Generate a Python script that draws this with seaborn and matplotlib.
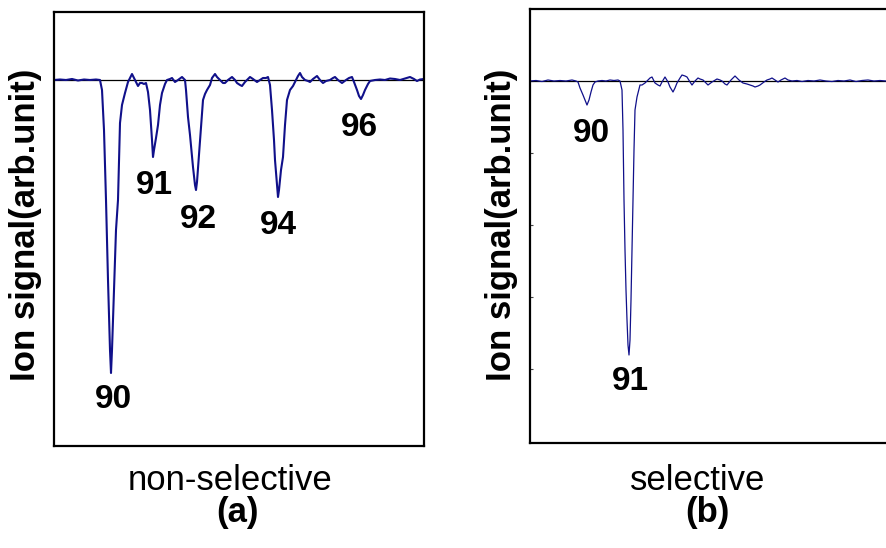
import matplotlib
matplotlib.use("Agg")
import matplotlib.pyplot as plt
import seaborn as sns
import pandas as pd

# ---- non-selective ionisation trace (scan step, ion signal) ----
scan_a = [0, 6, 12, 18, 24, 30, 36, 42, 46, 48, 50, 52, 54, 56, 57, 58, 60, 62, 64, 65,
          66, 68, 71, 74, 76, 78, 80, 82, 84, 86, 88, 90, 92, 94, 96, 98, 99, 100, 102, 104,
          106, 108, 111, 113, 116, 118, 121, 124, 128, 131, 132, 134, 136, 139, 141, 142, 143, 145, 146, 148,
          149, 151, 153, 156, 158, 161, 163, 166, 169, 171, 174, 178, 181, 183, 186, 188, 191, 196, 199, 203,
          206, 209, 212, 214, 216, 218, 220, 221, 223, 224, 225, 227, 229, 231, 233, 236, 239, 241, 244, 246,
          248, 251, 254, 256, 259, 263, 266, 269, 272, 276, 279, 281, 284, 288, 292, 295, 298, 300, 303, 305,
          307, 309, 311, 314, 316, 321, 326, 331, 336, 341, 346, 351, 356, 360, 363, 366, 370]
signal_a = [0.00, 0.005, 0.00, 0.01, -0.005, 0.005, 0.00, 0.005, 0.00, -0.10, -0.50, -1.20, -2.00, -2.70, -2.93, -2.70, -2.10, -1.50, -1.20, -0.80,
            -0.43, -0.25, -0.13, -0.02, 0.02, 0.06, 0.02, -0.02, -0.06, -0.03, -0.03, -0.04, -0.03, -0.12, -0.30, -0.60, -0.77, -0.70, -0.58, -0.45,
            -0.25, -0.13, -0.04, 0.00, 0.01, 0.02, -0.02, 0.00, 0.03, 0.00, -0.10, -0.37, -0.55, -0.87, -1.05, -1.10, -1.02, -0.75, -0.60, -0.35,
            -0.20, -0.14, -0.10, -0.05, 0.02, 0.06, 0.03, 0.00, -0.03, -0.03, 0.00, 0.03, 0.00, -0.03, -0.05, -0.06, -0.02, 0.03, 0.01, -0.02,
            0.00, 0.02, 0.02, 0.03, -0.05, -0.30, -0.60, -0.80, -1.05, -1.17, -1.10, -0.90, -0.77, -0.45, -0.20, -0.10, -0.06, -0.02, 0.04, 0.07,
            0.03, 0.00, -0.01, -0.02, 0.01, 0.04, 0.00, -0.03, -0.01, 0.00, 0.02, 0.03, 0.00, -0.03, 0.00, 0.02, 0.03, -0.02, -0.10, -0.16,
            -0.19, -0.15, -0.10, -0.04, -0.01, 0.00, 0.005, 0.00, 0.015, 0.01, 0.00, 0.015, 0.03, 0.01, -0.01, 0.005, 0.01]

# ---- selective ionisation trace ----
scan_b = [0, 6, 12, 18, 24, 30, 36, 42, 46, 48, 50, 53, 55, 57, 59, 61, 63, 65, 68, 72,
          76, 80, 84, 88, 90, 92, 93, 94, 95, 96, 97, 98, 99, 100, 101, 102, 103, 104, 105, 107,
          110, 112, 115, 118, 120, 122, 125, 128, 130, 132, 135, 138, 140, 143, 145, 147, 150, 152, 155, 157,
          160, 162, 165, 168, 170, 173, 176, 178, 182, 187, 190, 192, 195, 197, 201, 205, 209, 213, 217, 220,
          223, 225, 228, 230, 234, 237, 240, 242, 245, 248, 251, 255, 258, 262, 267, 272, 278, 284, 290, 296,
          302, 308, 314, 320, 326, 332, 338, 344, 350, 356]
signal_b = [0.00, 0.005, -0.005, 0.01, 0.00, 0.005, 0.00, 0.01, 0.00, -0.01, -0.07, -0.14, -0.19, -0.24, -0.19, -0.11, -0.04, -0.01, 0.00, 0.005,
            0.00, 0.01, 0.005, 0.01, 0.00, -0.09, -0.49, -1.19, -1.69, -2.09, -2.39, -2.64, -2.74, -2.59, -2.19, -1.69, -1.19, -0.69, -0.29, -0.16,
            -0.04, -0.04, -0.02, 0.01, 0.03, 0.04, -0.02, -0.04, -0.05, -0.01, 0.04, -0.01, -0.06, -0.11, -0.07, -0.02, 0.03, 0.06, 0.05, 0.04,
            -0.01, -0.04, 0.00, 0.03, 0.02, 0.01, -0.02, -0.04, -0.01, 0.02, 0.01, 0.00, -0.03, -0.04, 0.01, 0.05, 0.01, -0.02, -0.03, -0.04,
            -0.05, -0.06, -0.05, -0.04, -0.01, 0.01, 0.02, 0.03, 0.01, -0.01, 0.01, 0.03, 0.01, 0.00, 0.005, -0.005, 0.005, 0.00, 0.01, 0.00,
            -0.005, 0.005, 0.00, 0.01, -0.005, 0.005, 0.01, 0.00, 0.005, 0.00]

# mass labels of the resonance dips
masses_a = ["90", "91", "92", "94", "96"]
masses_b = ["90", "91"]
panel_names = ["non-selective", "selective"]
panel_tags = ["(a)", "(b)"]

sns.set_theme(style="white")
plt.rcParams["font.family"] = ["Liberation Sans", "DejaVu Sans"]
plt.rcParams["text.color"] = "black"

W, H = 886, 548
fig = plt.figure(figsize=(W / 100, H / 100), dpi=100)

def px_axes(left, top, right, bottom):
    return fig.add_axes([left / W, 1 - bottom / H, (right - left) / W, (bottom - top) / H])

ax_a = px_axes(54, 12, 424, 446)
ax_b = px_axes(530, 9, 892, 443)

trace_color = "#10108a"
df_a = pd.DataFrame({"scan": scan_a, "signal": signal_a})
df_b = pd.DataFrame({"scan": scan_b, "signal": signal_b})
sns.lineplot(data=df_a, x="scan", y="signal", ax=ax_a, color=trace_color, lw=1.5,
             estimator=None, sort=False)
sns.lineplot(data=df_b, x="scan", y="signal", ax=ax_b, color=trace_color, lw=0.9,
             estimator=None, sort=False)

ax_a.set_xlim(0, 370)
ax_a.set_ylim(-3.66, 0.68)
ax_b.set_xlim(0, 362)
ax_b.set_ylim(-3.62, 0.72)

for ax in (ax_a, ax_b):
    ax.axhline(0, color="black", lw=0.9, zorder=1)
    ax.set_xlabel("")
    ax.set_ylabel("")
    ax.set_xticks([])
    for s in ax.spines.values():
        s.set_color("black")
        s.set_linewidth(1.6)

ax_a.set_yticks([])
ax_b.set_yticks([0, -0.72, -1.44, -2.16, -2.88])
ax_b.tick_params(axis="y", direction="in", length=2.5, width=0.8, left=True,
                 labelleft=False, color="#444444")

lab_kw = dict(fontsize=24, fontweight="bold", ha="center", va="center", color="black")
for txt, (x, y) in zip(masses_a, [(59, -3.19), (100, -1.06), (144, -1.40), (224, -1.45), (305, -0.48)]):
    ax_a.text(x, y, txt, **lab_kw)
for txt, (x, y) in zip(masses_b, [(61, -0.52), (100, -3.01)]):
    ax_b.text(x, y, txt, **lab_kw)

for xc in (26, 501):
    fig.text(xc / W, 1 - 225 / H, "Ion signal(arb.unit)", rotation=90, fontsize=25,
             fontweight="bold", ha="center", va="center", color="black")

for xc, name, xt, tag in zip((230, 698), panel_names, (237, 707), panel_tags):
    fig.text(xc / W, 1 - 490 / H, name, fontsize=25, ha="center", va="baseline", color="black")
    fig.text(xt / W, 1 - 522 / H, tag, fontsize=25, fontweight="bold", ha="center",
             va="baseline", color="black")

fig.savefig("out.png", dpi=100)
